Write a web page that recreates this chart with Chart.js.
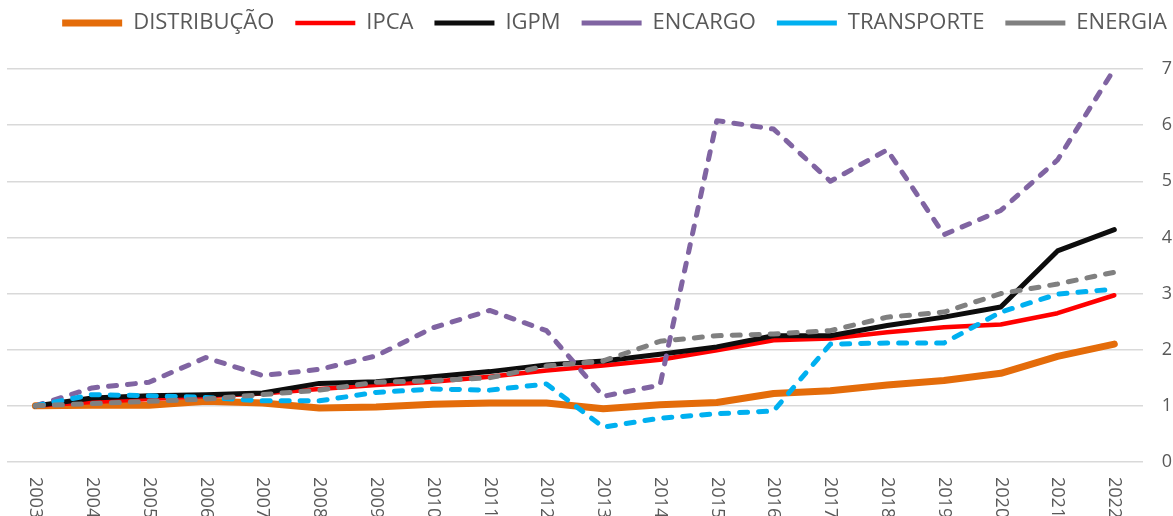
<!DOCTYPE html>
<html>
<head>
<meta charset="utf-8">
<script src="https://cdn.jsdelivr.net/npm/chart.js@4.4.1/dist/chart.umd.min.js"></script>
<style>
html, body { margin: 0; padding: 0; background: #fff; }
</style>
</head>
<body>
<canvas id="grafico" width="1173" height="516"></canvas>
<script>
const anos = ['2003','2004','2005','2006','2007','2008','2009','2010','2011','2012','2013','2014','2015','2016','2017','2018','2019','2020','2021','2022']
const distribuicao = [1.00,1.01,1.01,1.08,1.05,0.96,0.98,1.03,1.05,1.05,0.95,1.02,1.06,1.22,1.27,1.37,1.45,1.58,1.88,2.10]
const ipca = [1.00,1.07,1.12,1.17,1.22,1.30,1.37,1.43,1.52,1.63,1.72,1.82,1.99,2.17,2.20,2.31,2.40,2.45,2.65,2.97]
const igpm = [1.00,1.14,1.18,1.20,1.23,1.40,1.43,1.52,1.61,1.73,1.80,1.92,2.05,2.25,2.25,2.43,2.58,2.76,3.76,4.14]
const encargo = [1.00,1.32,1.42,1.86,1.54,1.65,1.89,2.39,2.70,2.34,1.17,1.37,6.08,5.93,5.00,5.56,4.05,4.48,5.38,7.00]
const transporte = [1.00,1.20,1.18,1.15,1.09,1.09,1.24,1.30,1.28,1.39,0.62,0.78,0.86,0.91,2.10,2.12,2.12,2.67,2.99,3.08]
const energia = [1.00,1.04,1.08,1.12,1.20,1.28,1.42,1.45,1.50,1.71,1.80,2.15,2.25,2.28,2.34,2.58,2.67,3.00,3.17,3.38]
const ticksY = [0,1,2,3,4,5,6,7]

const fonte = '"Open Sans", sans-serif'
const cinzaTexto = '#595959'

function serie(label, data, cor, largura, tracejado, ordem){
    return {
        label: label,
        data: data,
        borderColor: cor,
        backgroundColor: cor,
        borderWidth: largura,
        borderDash: tracejado ? [8, 11] : [],
        borderCapStyle: 'round',
        borderJoinStyle: 'round',
        pointRadius: 0,
        tension: 0,
        fill: false,
        order: ordem
    }
}

// rotulos do eixo x girados no sentido horario, como no excel
const rotuloX = {
    id: 'rotuloX',
    afterDraw(chart){
        const ctx = chart.ctx
        const x = chart.scales.x
        const area = chart.chartArea
        ctx.save()
        ctx.font = '18px ' + fonte
        ctx.fillStyle = cinzaTexto
        ctx.textAlign = 'left'
        ctx.textBaseline = 'middle'
        anos.forEach((ano, i) => {
            ctx.save()
            ctx.translate(x.getPixelForValue(i), area.bottom + 15)
            ctx.rotate(Math.PI / 2)
            ctx.fillText(ano, 0, 0)
            ctx.restore()
        })
        ctx.restore()
    }
}

// espaco extra entre legenda e grafico + legenda um pouco para a esquerda
const ajusteLegenda = {
    id: 'ajusteLegenda',
    beforeInit(chart){
        const lg = chart.legend
        const fitOrig = lg.fit
        const drawOrig = lg.draw
        lg.fit = function(){
            fitOrig.bind(lg)()
            this.height += 25
        }
        lg.draw = function(){
            chart.ctx.save()
            chart.ctx.translate(-3, 0)
            drawOrig.apply(lg, arguments)
            chart.ctx.restore()
        }
    }
}

const graph = new Chart(document.getElementById('grafico').getContext('2d'), {
    type: 'line',
    data: {
        labels: anos,
        datasets: [
            serie('DISTRIBUÇÃO', distribuicao, '#E46C0A', 7, false, 6),
            serie('IPCA', ipca, '#FF0000', 4.5, false, 5),
            serie('IGPM', igpm, '#0D0D0D', 5, false, 4),
            serie('ENCARGO', encargo, '#8064A2', 5, true, 3),
            serie('TRANSPORTE', transporte, '#00B0F0', 5, true, 2),
            serie('ENERGIA', energia, '#808080', 5, true, 1)
        ]
    },
    options: {
        responsive: false,
        animation: false,
        devicePixelRatio: 1,
        layout: { padding: { left: 7, right: -18, top: -9, bottom: 46 } },
        plugins: {
            legend: {
                position: 'top',
                align: 'end',
                labels: {
                    usePointStyle: true,
                    pointStyle: 'line',
                    pointStyleWidth: 60,
                    padding: 21,
                    color: cinzaTexto,
                    font: { family: fonte, size: 22 },
                    sort: (a, b) => a.datasetIndex - b.datasetIndex
                }
            },
            tooltip: { enabled: false }
        },
        scales: {
            x: {
                type: 'category',
                offset: true,
                grid: { display: false },
                border: { display: false },
                ticks: { display: false }
            },
            y: {
                position: 'right',
                min: 0,
                max: 7,
                afterBuildTicks: (scale) => { scale.ticks = ticksY.map(v => ({ value: v })) },
                grid: { color: '#D9D9D9', lineWidth: 1.5, drawTicks: false },
                border: { display: false },
                ticks: { color: cinzaTexto, padding: 19, font: { family: fonte, size: 18 } }
            }
        }
    },
    plugins: [rotuloX, ajusteLegenda]
})
</script>
</body>
</html>
